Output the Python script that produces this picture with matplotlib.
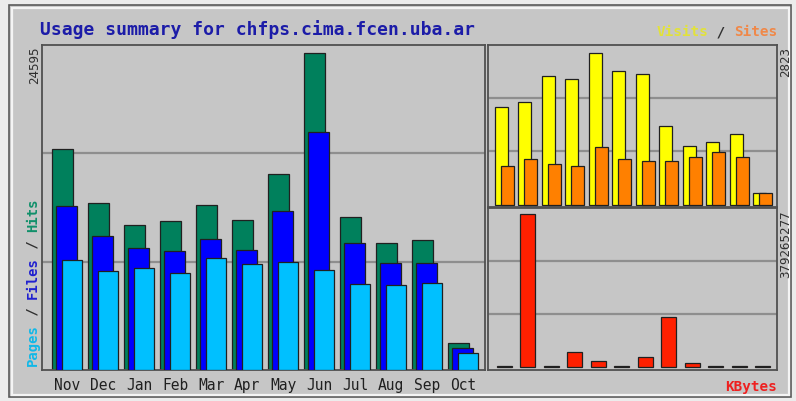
#!/usr/bin/env python
# Webalizer style usage summary chart

import matplotlib
matplotlib.use('Agg')
from matplotlib import pyplot as plt
from matplotlib.patches import Rectangle
import numpy as np

# monthly data
months = ['Nov', 'Dec', 'Jan', 'Feb', 'Mar', 'Apr', 'May', 'Jun', 'Jul', 'Aug', 'Sep', 'Oct']
hits   = [17150, 12960, 11250, 11560, 12800, 11640, 15210, 24595, 11870, 9850, 10090, 2095]
files  = [12730, 10400, 9470, 9230, 10160, 9310, 12340, 18470, 9850, 8300, 8300, 1710]
pages  = [8540, 7680, 7910, 7530, 8690, 8220, 8380, 7760, 6670, 6600, 6750, 1320]
visits = [1819, 1911, 2392, 2342, 2823, 2484, 2435, 1467, 1084, 1158, 1306, 215]
sites  = [727, 851, 764, 727, 1066, 851, 820, 820, 881, 986, 881, 215]
kbytes = [2.0e6, 379265277, 2.0e6, 35.8e6, 15.0e6, 2.0e6, 24.8e6, 124.0e6, 9.0e6, 2.5e6, 2.5e6, 2.5e6]

W, H = 796, 401
BG = '#c6c6c6'
GRID = '#8e8e8e'
EDGE = '#202020'

fig = plt.figure(figsize=(W / 100, H / 100), dpi=100)
fig.patch.set_facecolor('#ececec')

# outer bevelled frame (behind the axes)
fig.add_artist(Rectangle((9 / W, 1 - 397 / H), 782 / W, 392 / H, transform=fig.transFigure,
                         facecolor=BG, edgecolor='#5a5a5a', lw=1.2, zorder=-2))
fig.add_artist(Rectangle((11.5 / W, 1 - 394.5 / H), 777 / W, 387 / H, transform=fig.transFigure,
                         facecolor='none', edgecolor='#f4f4f4', lw=1.6, zorder=-1))


def px_axes(x0, y0, x1, y1):
    ax = fig.add_axes([x0 / W, 1 - y1 / H, (x1 - x0) / W, (y1 - y0) / H])
    ax.set_facecolor(BG)
    ax.set_xticks([])
    ax.set_yticks([])
    for s in ax.spines.values():
        s.set_color('#505050')
        s.set_linewidth(1.3)
    return ax


def grid3(ax, top):
    for f in (1 / 3, 2 / 3):
        ax.axhline(top * f, color=GRID, lw=1.6, zorder=1)


def ftext(x, y, s, **kw):
    return fig.text(x / W, 1 - y / H, s, **kw)


x = np.arange(len(months))

# ---- left panel: hits / files / pages
ax1 = px_axes(42, 45, 485, 370)
step1 = 36.0
top1 = max(hits) * 325 / 317
ax1.set_xlim(-10 / step1, 433 / step1)
ax1.set_ylim(0, top1)
grid3(ax1, top1)
ax1.bar(x, hits, width=21 / step1, align='edge', color='#00805c', edgecolor=EDGE, lw=0.9, zorder=2)
ax1.bar(x + 4 / step1, files, width=21 / step1, align='edge', color='#0000ff', edgecolor=EDGE, lw=0.9, zorder=3)
ax1.bar(x + 10 / step1, pages, width=20 / step1, align='edge', color='#00c0ff', edgecolor=EDGE, lw=0.9, zorder=4)

for i, m in enumerate(months):
    ax1.text(i + 0.42, -0.025, m, transform=ax1.get_xaxis_transform(), ha='center', va='top',
             fontsize=10.5, family='DejaVu Sans Mono', color='#202020')

# ---- right top: visits / sites
ax2 = px_axes(488, 45, 777, 207)
step2 = 23.45
top2 = max(visits) * 162 / 154
ax2.set_xlim(-7 / step2, 282 / step2)
ax2.set_ylim(-top2 * 0.015, top2)
grid3(ax2, top2)
ax2.bar(x, visits, width=13 / step2, align='edge', color='#ffff00', edgecolor=EDGE, lw=0.9, zorder=2)
ax2.bar(x + 6 / step2, sites, width=13 / step2, align='edge', color='#ff8000', edgecolor=EDGE, lw=0.9, zorder=3)

# ---- right bottom: kbytes
ax3 = px_axes(488, 208, 777, 370)
top3 = max(kbytes) * 162 / 156
ax3.set_xlim(-9 / step2, 280 / step2)
ax3.set_ylim(-top3 * 0.02, top3)
grid3(ax3, top3)
ax3.bar(x, kbytes, width=15 / step2, align='edge', color='#ff2000', edgecolor=EDGE, lw=0.9, zorder=2)

# ---- texts
mono = 'DejaVu Sans Mono'
ftext(40, 30, 'Usage summary for chfps.cima.fcen.uba.ar', fontsize=13, weight='bold',
      family=mono, color='#1c1ca8', va='center', ha='left')

# Visits / Sites (right aligned, built from monospace pieces)
cw = 8.6
x_end = 777
parts = [('Visits', '#e2e23a'), (' / ', '#303030'), ('Sites', '#f08848')]
n = sum(len(p) for p, _ in parts)
pos = x_end - n * cw
for p, c in parts:
    ftext(pos, 32, p, fontsize=10.3, weight='bold', family=mono, color=c, va='center', ha='left')
    pos += len(p) * cw

ftext(777, 387, 'KBytes', fontsize=10.3, weight='bold', family=mono, color='#ee2020',
      va='center', ha='right')

# Pages / Files / Hits, rotated on the left
cw = 8.4
parts = [('Pages', '#10b8e8'), (' / ', '#303030'), ('Files', '#2020d0'), (' / ', '#303030'), ('Hits', '#10906a')]
pos = 366
for p, c in parts:
    ftext(33, pos, p, fontsize=10, weight='bold', family=mono, color=c, rotation=90,
          va='bottom', ha='center')
    pos -= len(p) * cw

ftext(35, 47, str(max(hits)), fontsize=9, family=mono, color='#303030', rotation=90,
      va='top', ha='center')
ftext(786, 47, str(max(visits)), fontsize=9, family=mono, color='#303030', rotation=90,
      va='top', ha='center')
ftext(786, 211, str(int(max(kbytes))), fontsize=9, family=mono, color='#303030', rotation=90,
      va='top', ha='center')

fig.savefig('out.png', dpi=100, facecolor=fig.get_facecolor())
